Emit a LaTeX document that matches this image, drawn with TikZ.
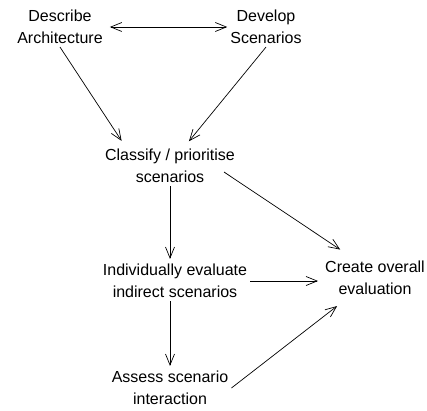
\documentclass[tikz,border=0pt]{standalone}
\usepackage{fontspec}
\setmainfont{Liberation Sans}
\usetikzlibrary{arrows.meta,calc}

\begin{document}
\begin{tikzpicture} [x=1pt, y=1pt, >={Straight Barb[length=11pt, width=9pt, line width=0.7pt]},
	every node/.style = {shape=rectangle, align=center, inner sep=3pt, font=\fontsize{16pt}{22pt}\selectfont},
	flow/.style = {draw, line width=0.7pt, ->}]
			\useasboundingbox (0,0) rectangle (427,410);
			\node (desc) at (60,383) {Describe\\Architecture};
			\node (dev) at (266,383) {Develop\\Scenarios};
			\node (classify) at (170,244) {Classify / prioritise\\scenarios};
			\node (indiv) at (175,129) {Individually evaluate\\indirect scenarios};
			\node (create) at (375,132) {Create overall\\evaluation};
			\node (assess) at (170,22) {Assess scenario\\interaction};
			\path [flow, <->, shorten <=4pt] (desc.east) -- (dev.west);
			\path [flow, shorten >=6pt] (desc.south) -- (classify.156);
			\path [flow, shorten >=6pt] (dev.south) -- (classify.53);
			\path [flow, shorten >=15pt] ($(classify)+(54,-6)$) -- (create.138);
			\path [flow, shorten >=2pt] (classify.south) -- (classify.south |- indiv.north);
			\path [flow, shorten >=4pt] (indiv.east) -- (indiv.east -| create.west);
			\path [flow, shorten >=2pt] (assess.north |- indiv.south) -- (assess.north);
			\path [flow, shorten >=13pt] (assess.east) -- (create.216);
		\end{tikzpicture}
\end{document}
